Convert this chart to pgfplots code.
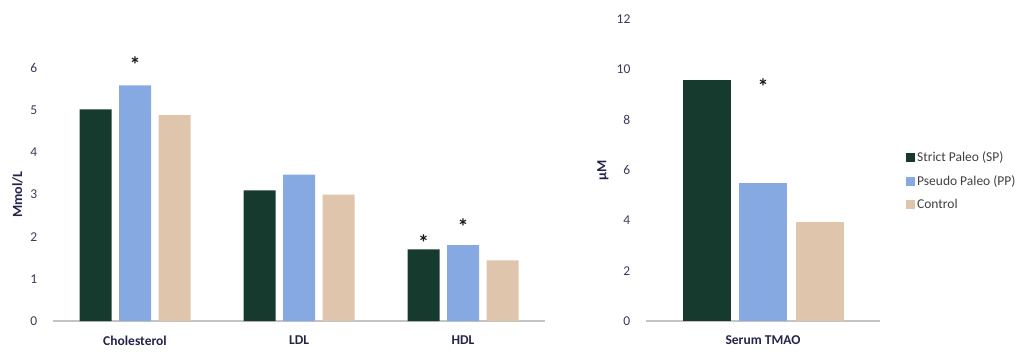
\documentclass[border=0pt]{standalone}
\usepackage{pgfplots}
\pgfplotsset{compat=1.18}
\usepackage{fontspec}
\setmainfont{Carlito}

\definecolor{spcol}{HTML}{173A2F}
\definecolor{ppcol}{HTML}{87A9E2}
\definecolor{ctcol}{HTML}{DEC5AB}
\definecolor{tickcol}{HTML}{3A3A58}
\definecolor{labcol}{HTML}{24244A}
\definecolor{basecol}{HTML}{C4C4C4}

\tikzset{sigstar/.style={font=\fontsize{22}{24}\selectfont\bfseries, text=black!90}}

\pgfplotsset{
  panel/.style={
    scale only axis,
    ybar,
    bar width=32pt,
    ymin=0,
    axis x line=bottom,
    axis y line=left,
    y axis line style={draw=none},
    x axis line style={draw=basecol, line width=1.3pt, -},
    xtick style={draw=none},
    ytick style={draw=none},
    xtick=data,
    clip=false,
    /pgf/number format/assume math mode=true,
    tick label style={font=\fontsize{13.5}{16}\selectfont, text=tickcol},
    yticklabel style={xshift=-10pt},
    xticklabel style={font=\fontsize{13.5}{16}\selectfont\bfseries, text=labcol, yshift=-9pt},
    ylabel style={font=\fontsize{14}{16}\selectfont\bfseries, text=labcol},
  },
}

\begin{document}
\begin{tikzpicture}
\useasboundingbox (0,0) rectangle (1036pt,351pt);

% Lipid panel (mmol/L)
\begin{axis}[
  panel,
  at={(53pt,30pt)}, anchor=south west,
  width=492pt, height=253pt,
  xmin=-0.5, xmax=2.5,
  ymax=6, ytick={0,1,...,6},
  xticklabels={Cholesterol, LDL, HDL},
  ylabel={Mmol/L},
  ylabel style={at={(axis description cs:-0.072,0.5)}, anchor=center},
]
\addplot[fill=spcol, draw=none, bar shift=-39.5pt] coordinates {(0,5.02) (1,3.10) (2,1.70)};
\addplot[fill=ppcol, draw=none, bar shift=0pt]     coordinates {(0,5.59) (1,3.47) (2,1.80)};
\addplot[fill=ctcol, draw=none, bar shift=39.5pt]  coordinates {(0,4.88) (1,3.00) (2,1.44)};
\node[sigstar] at (axis cs:0,6.09) {*};
\node[sigstar, xshift=-39.5pt] at (axis cs:2,1.87) {*};
\node[sigstar] at (axis cs:2,2.23) {*};
\end{axis}

% Serum TMAO panel (uM)
\begin{axis}[
  panel,
  at={(646pt,30pt)}, anchor=south west,
  width=234pt, height=302pt,
  bar width=48pt,
  xmin=-0.5, xmax=0.5,
  ymax=12, ytick={0,2,...,12},
  xticklabels={Serum TMAO},
  ylabel={µM},
  ylabel style={at={(axis description cs:-0.184,0.5)}, anchor=center},
  legend style={
    at={(1.098,0.464)}, anchor=west,
    draw=none, fill=none,
    font=\fontsize{13.5}{15}\selectfont, text=black!75,
    row sep=8pt,
  },
  legend cell align=left,
  legend image code/.code={\fill[#1] (0pt,-4.5pt) rectangle (9pt,4.5pt);},
]
\addplot[fill=spcol, draw=none, bar shift=-56.5pt] coordinates {(0,9.58)};
\addplot[fill=ppcol, draw=none, bar shift=0pt]     coordinates {(0,5.48)};
\addplot[fill=ctcol, draw=none, bar shift=56.5pt]  coordinates {(0,3.93)};
\legend{Strict Paleo (SP), Pseudo Paleo (PP), Control}
\node[sigstar] at (axis cs:0,9.30) {*};
\end{axis}
\end{tikzpicture}
\end{document}
